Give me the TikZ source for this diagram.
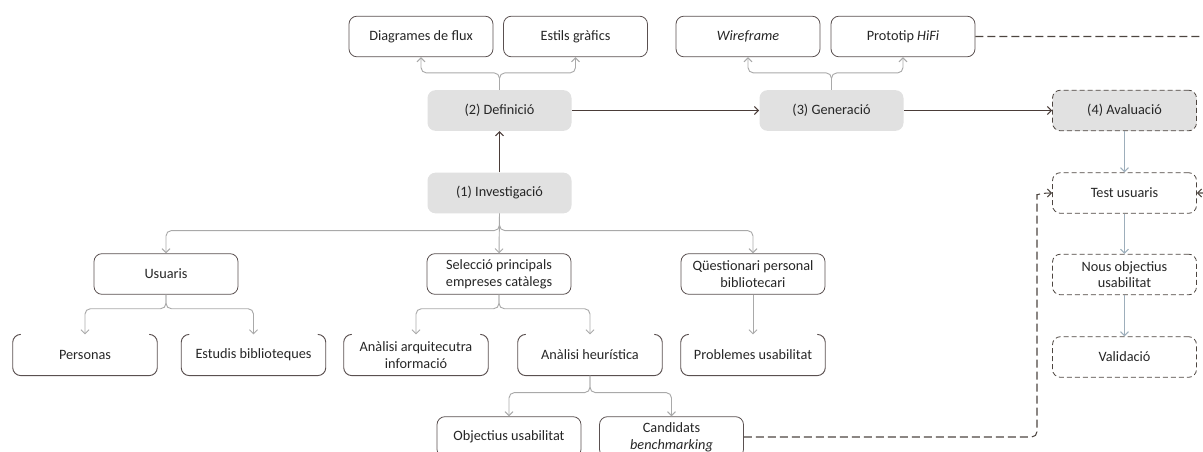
\documentclass[tikz,border=0pt]{standalone}
\usepackage{fontspec}
\setmainfont{Carlito}
\usetikzlibrary{arrows.meta}
\definecolor{edgec}{HTML}{5A5050}
\definecolor{phasec}{HTML}{E1E1E1}
\definecolor{treec}{HTML}{A9A9A9}
\definecolor{treeb}{HTML}{9DAEBB}
\definecolor{flowc}{HTML}{4A3C38}
\definecolor{dashc}{HTML}{4D4540}
\begin{document}
\begin{tikzpicture}[x=0.75pt,y=-0.75pt,
  font=\fontsize{10.7}{12.5}\selectfont, text=black!85,
  base/.style={minimum width=108pt, minimum height=30.5pt, rounded corners=6pt, align=center, inner sep=1pt},
  plainbox/.style={base, draw=edgec, line width=0.6pt, fill=white},
  phasebox/.style={base, fill=phasec},
  dphase/.style={base, fill=phasec, draw=dashc, line width=0.6pt, dash pattern=on 3.75pt off 2.25pt},
  dbox/.style={base, draw=dashc, line width=0.6pt, dash pattern=on 3.75pt off 2.25pt},
  openbox/.style={base},
  openedge/.style={draw=edgec, line width=0.7pt, rounded corners=6pt},
  tree/.style={draw=treec, line width=0.7pt, rounded corners=4pt, -{Straight Barb[length=3pt,width=6pt]}},
  treeblue/.style={draw=treeb, line width=0.7pt, -{Straight Barb[length=3pt,width=6pt]}},
  flowarrow/.style={draw=flowc, line width=0.8pt, -{Straight Barb[length=3pt,width=6pt]}},
  dashline/.style={draw=dashc, line width=0.8pt, dash pattern=on 6pt off 3pt, rounded corners=4pt, -{Straight Barb[length=3pt,width=6pt]}}
]
\useasboundingbox (0,0) rectangle (1203,452);
\clip (0,0) rectangle (1203,452);

% top row
\node[plainbox] (diag)   at (421,36.5)   {Diagrames de flux};
\node[plainbox] (estils) at (575.5,36.5) {Estils gràfics};
\node[plainbox] (wire)   at (748,36.5)   {\textit{Wireframe}};
\node[plainbox] (proto)  at (903,36.5)   {Prototip \textit{HiFi}};

% phases
\node[phasebox] (def)  at (499.5,110.5) {(2) Definició};
\node[phasebox] (gen)  at (831.5,110.5) {(3) Generació};
\node[dphase]   (aval) at (1124.5,110.5) {(4) Avaluació};
\node[phasebox] (inv)  at (499.5,193)   {(1) Investigació};

% second row
\node[plainbox] (usu)  at (166,274)   {Usuaris};
\node[plainbox] (sel)  at (499,274)   {Selecció principals\\empreses catàlegs};
\node[plainbox] (ques) at (753,274)   {Qüestionari personal\\bibliotecari};

% third row (open top)
\node[openbox] (pers)  at (85,355)    {Personas};
\node[openbox] (estud) at (253.5,355) {Estudis biblioteques};
\node[openbox] (arq)   at (416,355)   {Anàlisi arquitecutra\\informació};
\node[openbox] (heur)  at (590,355)   {Anàlisi heurística};
\node[openbox] (prob)  at (753,355)   {Problemes usabilitat};
\foreach \n in {pers,estud,arq,heur,prob}{
  \draw[openedge] ([xshift=6pt]\n.north west) -- (\n.north west) -- (\n.south west)
     -- (\n.south east) -- (\n.north east) -- ([xshift=-6pt]\n.north east);
}

% fourth row
\node[plainbox] (obj)  at (509,437)   {Objectius usabilitat};
\node[plainbox] (cand) at (671.5,437) {Candidats\\\textit{benchmarking}};

% evaluation column
\node[dbox] (test)  at (1124.5,193)   {Test usuaris};
\node[dbox] (nous)  at (1124.5,274.5) {Nous objectius\\usabilitat};
\node[dbox] (valid) at (1124.5,357)   {Validació};

% flow arrows
\draw[flowarrow] (inv.north) -- (def.south);
\draw[flowarrow] (def.east) -- (gen.west);
\draw[flowarrow] (gen.east) -- (aval.west);

% tree arrows
\draw[tree] (def.north) -- ++(0,-17) -| (diag.south);
\draw[tree] (def.north) -- ++(0,-17) -| (estils.south);
\draw[tree] (gen.north) -- ++(0,-17) -| (wire.south);
\draw[tree] (gen.north) -- ++(0,-17) -| (proto.south);

\draw[tree] (inv.south) -- ++(0,17) -| (usu.north);
\draw[tree] (inv.south) -- (sel.north);
\draw[tree] (inv.south) -- ++(0,17) -| (ques.north);

\draw[tree] (usu.south) -- ++(0,14) -| (pers.north);
\draw[tree] (usu.south) -- ++(0,14) -| (estud.north);
\draw[tree] (sel.south) -- ++(0,14) -| (arq.north);
\draw[tree] (sel.south) -- ++(0,14) -| (heur.north);
\draw[tree] (ques.south) -- (prob.north);

\draw[tree] (heur.south) -- ++(0,17) -| (obj.north);
\draw[tree] (heur.south) -- ++(0,17) -| (cand.north);

\draw[treeblue] (aval.south) -- (test.north);
\draw[treeblue] (test.south) -- (nous.north);
\draw[treeblue] (nous.south) -- (valid.north);

% dashed feedback lines
\coordinate (c1) at (1037,437);
\coordinate (c2) at (1037,200);
\draw[dashline] (cand.east) -- (c1) -- (c2) .. controls (1037,195) and (1041,193) .. (test.west);
\coordinate (c3) at (1230,36.5);
\coordinate (c4) at (1230,193);
\draw[dashline] (proto.east) -- (c3) -- (c4) -- (test.east);
\end{tikzpicture}
\end{document}
